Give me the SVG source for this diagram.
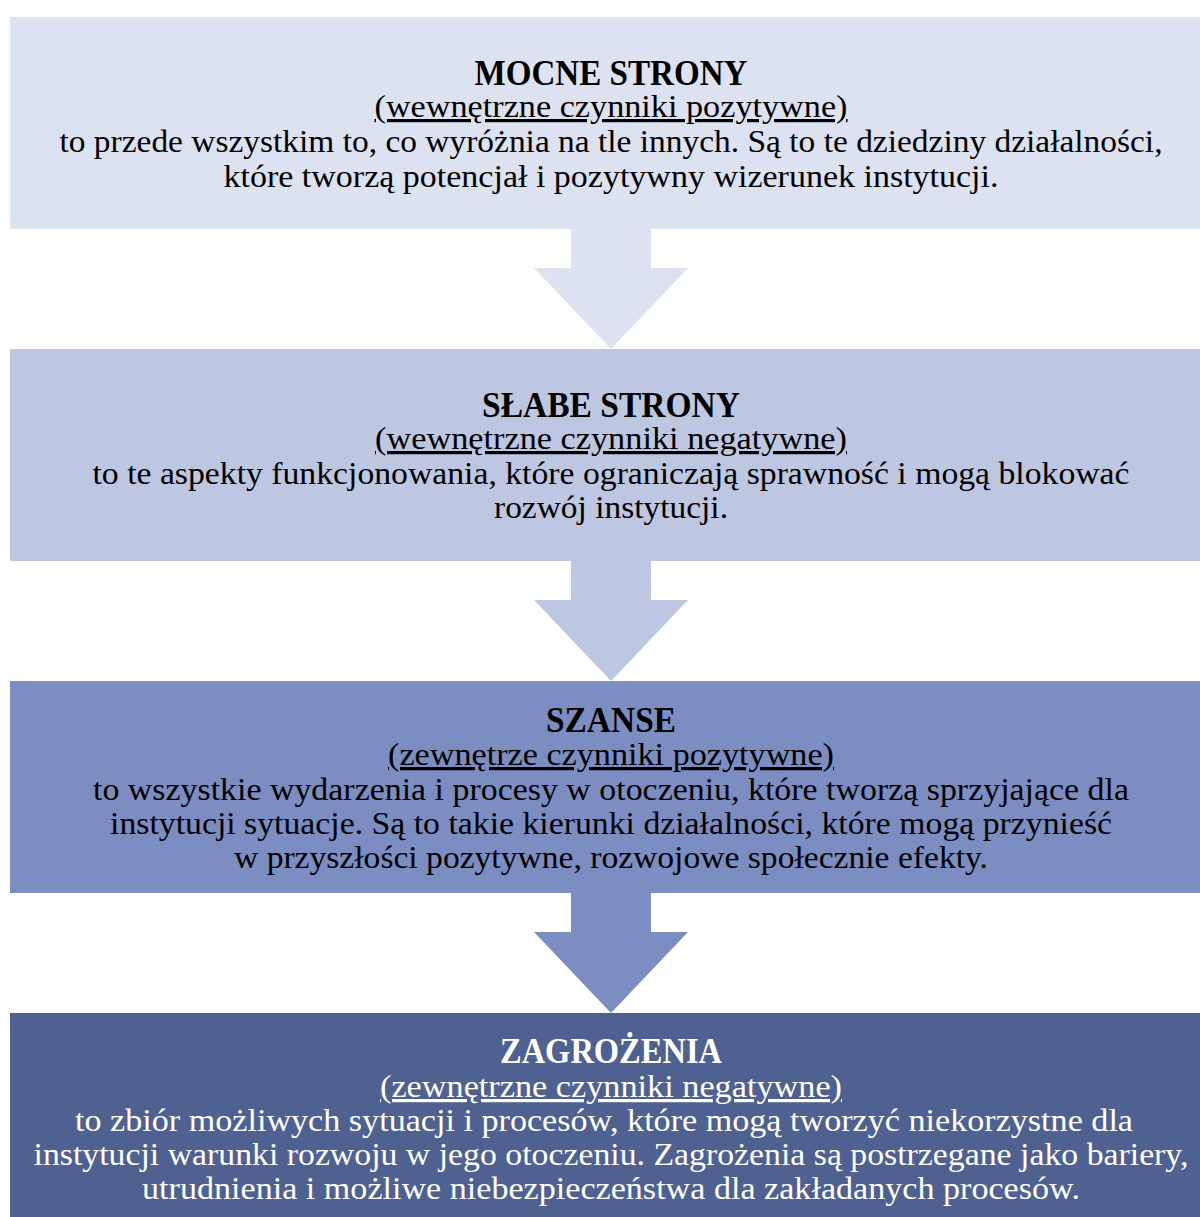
<svg xmlns="http://www.w3.org/2000/svg" width="1200" height="1217" viewBox="0 0 1200 1217">
<style>
text { font-family: "Liberation Serif", "DejaVu Serif", serif; text-anchor: middle; }
.t { font-size: 36px; font-weight: bold; }
.s { font-size: 32px; text-decoration: underline; }
.b { font-size: 32px; }
.dark text { fill: #000; }
.light text { fill: #fff; }
</style>
<rect width="1200" height="1217" fill="#ffffff"/>
<g id="connectors">
  <polygon fill="#DCE2F0" points="571,229 651,229 651,268 688,268 611,349 534,268 571,268"/>
  <polygon fill="#BDC7E2" points="571,561 651,561 651,600 688,600 611,681 534,600 571,600"/>
  <polygon fill="#7B8DC1" points="571,893 651,893 651,932 688,932 611,1013 534,932 571,932"/>
</g>
<g id="mocne" class="dark">
  <rect x="10" y="17" width="1190" height="212" fill="#DCE2F0"/>
  <text x="611" y="85" class="t" textLength="273" lengthAdjust="spacingAndGlyphs">MOCNE STRONY</text>
  <text x="611" y="117" class="s" textLength="473" lengthAdjust="spacingAndGlyphs">(wewnętrzne czynniki pozytywne)</text>
  <text x="611" y="152" class="b" textLength="1103" lengthAdjust="spacingAndGlyphs">to przede wszystkim to, co wyróżnia na tle innych. Są to te dziedziny działalności,</text>
  <text x="611" y="187" class="b" textLength="775" lengthAdjust="spacingAndGlyphs">które tworzą potencjał i pozytywny wizerunek instytucji.</text>
</g>
<g id="slabe" class="dark">
  <rect x="10" y="349" width="1190" height="212" fill="#BDC7E2"/>
  <text x="611" y="417" class="t" textLength="258" lengthAdjust="spacingAndGlyphs">SŁABE STRONY</text>
  <text x="611" y="449" class="s" textLength="472" lengthAdjust="spacingAndGlyphs">(wewnętrzne czynniki negatywne)</text>
  <text x="611" y="484" class="b" textLength="1037" lengthAdjust="spacingAndGlyphs">to te aspekty funkcjonowania, które ograniczają sprawność i mogą blokować</text>
  <text x="611" y="518" class="b" textLength="234" lengthAdjust="spacingAndGlyphs">rozwój instytucji.</text>
</g>
<g id="szanse" class="dark">
  <rect x="10" y="681" width="1190" height="212" fill="#7B8DC1"/>
  <text x="611" y="732" class="t" textLength="130" lengthAdjust="spacingAndGlyphs">SZANSE</text>
  <text x="611" y="765" class="s" textLength="446" lengthAdjust="spacingAndGlyphs">(zewnętrze czynniki pozytywne)</text>
  <text x="611" y="800" class="b" textLength="1036" lengthAdjust="spacingAndGlyphs">to wszystkie wydarzenia i procesy w otoczeniu, które tworzą sprzyjające dla</text>
  <text x="611" y="834" class="b" textLength="1002" lengthAdjust="spacingAndGlyphs">instytucji sytuacje. Są to takie kierunki działalności, które mogą przynieść</text>
  <text x="611" y="868" class="b" textLength="754" lengthAdjust="spacingAndGlyphs">w przyszłości pozytywne, rozwojowe społecznie efekty.</text>
</g>
<g id="zagrozenia" class="light">
  <rect x="10" y="1013" width="1190" height="204" fill="#4F6190"/>
  <text x="611" y="1063" class="t" textLength="222" lengthAdjust="spacingAndGlyphs">ZAGROŻENIA</text>
  <text x="611" y="1097" class="s" textLength="462" lengthAdjust="spacingAndGlyphs">(zewnętrzne czynniki negatywne)</text>
  <text x="604" y="1131" class="b" textLength="1058" lengthAdjust="spacingAndGlyphs">to zbiór możliwych sytuacji i procesów, które mogą tworzyć niekorzystne dla</text>
  <text x="611" y="1165" class="b" textLength="1155" lengthAdjust="spacingAndGlyphs">instytucji warunki rozwoju w jego otoczeniu. Zagrożenia są postrzegane jako bariery,</text>
  <text x="611" y="1199" class="b" textLength="938" lengthAdjust="spacingAndGlyphs">utrudnienia i możliwe niebezpieczeństwa dla zakładanych procesów.</text>
</g>
</svg>
